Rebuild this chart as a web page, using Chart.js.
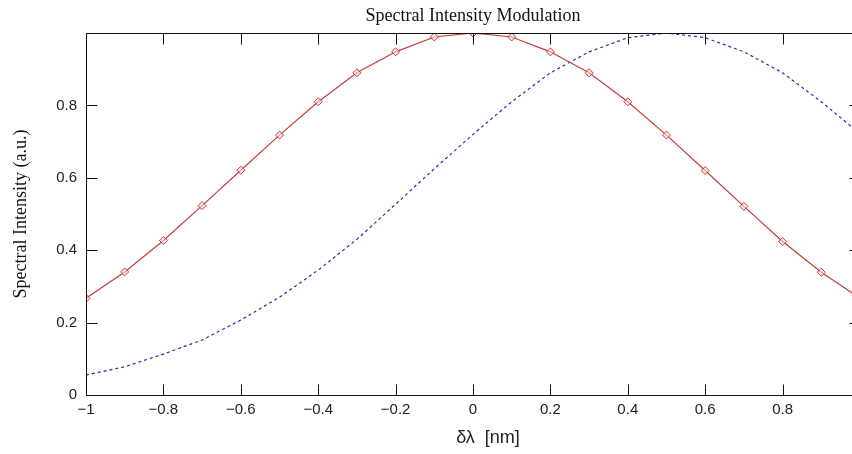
<!DOCTYPE html>
<html>
<head>
<meta charset="utf-8">
<script src="https://cdn.jsdelivr.net/npm/chart.js@4.4.0/dist/chart.umd.min.js"></script>
<style>
html,body{margin:0;padding:0;background:#fff;overflow:hidden}
#wrap{width:872px;height:454px}
</style>
</head>
<body>
<div id="wrap"><canvas id="c" width="872" height="454"></canvas></div>
<script>
// wavelength offset, nm
const xValues = [-1,-0.9,-0.8,-0.7,-0.6,-0.5,-0.4,-0.3,-0.2,-0.1,0,0.1,0.2,0.3,0.4,0.5,0.6,0.7,0.8,0.9,1];
// red curve (with diamonds), centred at 0
const redValues = [0.267,0.340,0.427,0.523,0.621,0.718,0.810,0.890,0.948,0.989,1.000,0.989,0.948,0.890,0.810,0.718,0.620,0.521,0.424,0.339,0.267];
// blue dashed curve, centred at 0.5
const blueValues = [0.055,0.078,0.113,0.152,0.207,0.270,0.345,0.430,0.527,0.625,0.720,0.810,0.890,0.948,0.987,1.000,0.987,0.948,0.890,0.810,0.722];
const xTicks = [-1,-0.8,-0.6,-0.4,-0.2,0,0.2,0.4,0.6,0.8];
const yTicks = [0,0.2,0.4,0.6,0.8];

const TICK = 11;
const tickFont = {family:'Liberation Sans', size:15};
const fmt = v => String(v).replace('-', '\u2212');

const boxTicks = {
  id:'boxTicks',
  afterDatasetsDraw(chart){
    const {ctx, chartArea:a, scales} = chart;
    const L=Math.round(a.left)+0.5, R=Math.round(a.right)+0.5, T=Math.round(a.top)+0.5, B=Math.round(a.bottom)+0.5;
    ctx.save();
    ctx.strokeStyle='#111'; ctx.lineWidth=1;
    ctx.strokeRect(L,T,R-L,B-T);
    ctx.beginPath();
    xTicks.forEach(v=>{
      const px=Math.round(scales.x.getPixelForValue(v))+0.5;
      ctx.moveTo(px,B); ctx.lineTo(px,B-TICK);
      ctx.moveTo(px,T); ctx.lineTo(px,T+TICK);
    });
    yTicks.forEach(v=>{
      const py=Math.round(scales.y.getPixelForValue(v))+0.5;
      ctx.moveTo(L,py); ctx.lineTo(L+TICK,py);
      ctx.moveTo(R,py); ctx.lineTo(R-TICK,py);
    });
    ctx.stroke(); ctx.restore();
  }
};

new Chart(document.getElementById('c'), {
  type:'line',
  data:{
    datasets:[
      {data:xValues.map((x,i)=>({x, y:redValues[i]})), borderColor:'#c83a3a', borderWidth:1.2,
       pointStyle:'rectRot', pointRadius:4, pointBorderColor:'#c83a3a', pointBackgroundColor:'rgba(255,220,220,0.6)',
       pointBorderWidth:1, tension:0},
      {data:xValues.map((x,i)=>({x, y:blueValues[i]})), borderColor:'#2a2ab0', borderWidth:1.2,
       borderDash:[3,3], pointRadius:0, tension:0}
    ]
  },
  options:{
    responsive:false, animation:false,
    layout:{padding:{left:0, right:12, top:0, bottom:0}},
    plugins:{legend:{display:false}, tooltip:{enabled:false}},
    scales:{
      x:{type:'linear', position:'bottom', min:-1, max:1,
        grid:{display:false, drawTicks:false}, border:{display:false},
        afterBuildTicks:s=>{ s.ticks = xTicks.map(v=>({value:v})) },
        afterFit:s=>{ s.height = 59 },
        ticks:{font:tickFont, color:'#222', padding:6, maxRotation:0, minRotation:0, autoSkip:false, callback:fmt},
        title:{display:true, text:'      \u03b4\u03bb  [nm]', font:{family:'Liberation Sans', size:18}, color:'#222', padding:{top:0, bottom:5}}
      },
      x2:{type:'linear', position:'top', min:-1, max:1,
        grid:{display:false, drawTicks:false}, border:{display:false},
        ticks:{display:false},
        afterFit:s=>{ s.height = 33 },
        title:{display:true, text:'Spectral Intensity Modulation', font:{family:'Liberation Serif', size:18}, color:'#111', padding:{top:5, bottom:0}}
      },
      y:{type:'linear', min:0, max:1,
        grid:{display:false, drawTicks:false}, border:{display:false},
        afterBuildTicks:s=>{ s.ticks = yTicks.map(v=>({value:v})) },
        afterFit:s=>{ s.width = 86 },
        ticks:{font:tickFont, color:'#222', padding:9, callback:fmt},
        title:{display:true, text:'Spectral Intensity (a.u.)', font:{family:'Liberation Serif', size:18}, color:'#111', padding:{top:10, bottom:0}}
      }
    }
  },
  plugins:[boxTicks]
});
</script>
</body>
</html>
